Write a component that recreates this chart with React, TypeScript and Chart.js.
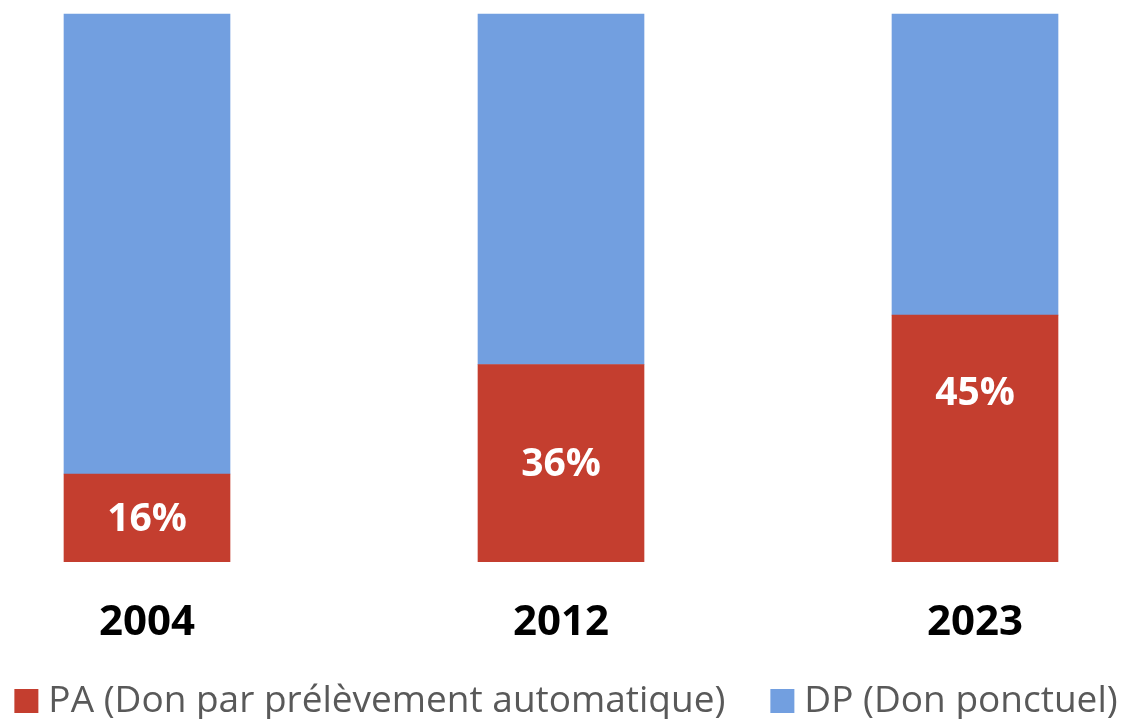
import React, { useEffect, useRef } from "react";
import { Chart, registerables } from "chart.js";

Chart.register(...registerables);

const categories = ["2004", "2012", "2023"];
const paValues = [16, 36, 45];
const dpValues = [84, 64, 55];
const seriesNames = ["PA (Don par prélèvement automatique)", "DP (Don ponctuel)"];

const RED = "#C43E2F";
const BLUE = "#729FE0";

// vertical nudge (px) of each percentage label from its segment centre
const labelNudge = [2, 2, -44];

const labelPlugin = {
  id: "pctLabels",
  afterDatasetsDraw(chart: any) {
    const ctx = chart.ctx;
    const meta = chart.getDatasetMeta(0);
    ctx.save();
    ctx.fillStyle = "#FFFFFF";
    ctx.font = "bold 39px 'Open Sans'";
    ctx.textAlign = "center";
    ctx.textBaseline = "middle";
    meta.data.forEach((bar: any, i: number) => {
      const y = (bar.y + bar.base) / 2;
      ctx.fillText(paValues[i] + "%", bar.x, y + labelNudge[i]);
    });
    ctx.restore();
  },
};

const legendPlugin = {
  id: "customLegend",
  afterDraw(chart: any) {
    const ctx = chart.ctx;
    const ds = chart.data.datasets;
    ctx.save();
    ctx.font = "37px 'Open Sans'";
    ctx.textBaseline = "middle";
    ctx.textAlign = "left";
    const box = 24;
    const gapText = 10;
    const gapItem = 45;
    const widths = ds.map((d: any) => ctx.measureText(d.label).width);
    const total = widths.reduce((a: number, w: number) => a + box + gapText + w, 0) + gapItem * (ds.length - 1);
    let x = 566 - total / 2;
    const cy = 701;
    ds.forEach((d: any, i: number) => {
      ctx.fillStyle = d.backgroundColor;
      ctx.fillRect(x, cy - box / 2, box, box);
      ctx.fillStyle = "#595959";
      ctx.fillText(d.label, x + box + gapText, cy);
      x += box + gapText + widths[i] + gapItem;
    });
    ctx.restore();
  },
};

export default function App() {
  const ref = useRef<HTMLCanvasElement>(null);
  useEffect(() => {
    document.body.style.margin = "0";
    const chart = new Chart(ref.current!, {
      type: "bar",
      data: {
        labels: categories,
        datasets: [
          { label: seriesNames[0], data: paValues, backgroundColor: RED, barThickness: 166, clip: false as any },
          { label: seriesNames[1], data: dpValues, backgroundColor: BLUE, barThickness: 166, clip: false as any },
        ],
      },
      options: {
        animation: false,
        responsive: false,
        maintainAspectRatio: false,
        layout: { padding: { top: 14, left: 147, right: 152, bottom: 35 } },
        plugins: {
          legend: { display: false },
          tooltip: { enabled: false },
        },
        scales: {
          x: {
            stacked: true,
            offset: false,
            grid: { display: false, drawTicks: false },
            border: { display: false },
            ticks: { color: "#000000", font: { family: "'Open Sans'", size: 42, weight: "bold" }, padding: 36 },
          },
          y: {
            stacked: true,
            min: 0,
            max: 100,
            display: false,
          },
        },
      },
      plugins: [labelPlugin, legendPlugin],
    });
    return () => chart.destroy();
  }, []);
  return (
    <div style={{ position: "fixed", left: 0, top: 0, width: 1127, height: 719 }}>
      <canvas ref={ref} width={1127} height={719} style={{ width: 1127, height: 719 }} />
    </div>
  );
}
